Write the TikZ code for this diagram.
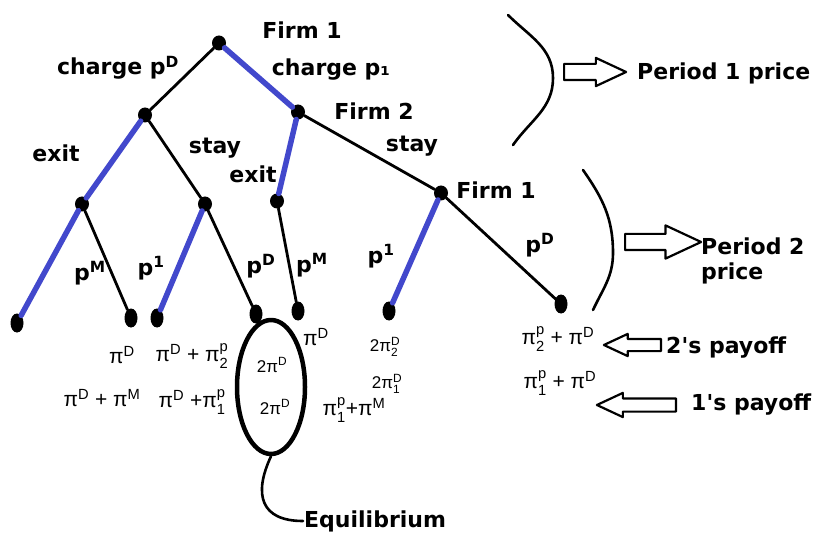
\documentclass[tikz,border=0pt]{standalone}
\usepackage{amsmath}
\usepackage{fontspec}
\setmainfont{DejaVu Sans}
\newfontfamily\payfont{Liberation Sans}
\usetikzlibrary{shapes.geometric, shapes.arrows}
\definecolor{treeBlue}{RGB}{66,72,204}
% profit with superscript and optional subscript
\newcommand\prof[2][]{\ensuremath{\text{π}^{\text{#2}}\if\relax\detokenize{#1}\relax\else_{\text{#1}}\fi}}
\tikzset{
    game/.style={line cap=round, line join=round, x=1pt, y=-1pt},
    dot/.style={ellipse, fill=black, inner sep=0pt, minimum width=14pt,
                minimum height=15pt},
    leaf/.style={dot, minimum width=13pt, minimum height=19pt},
    move/.style={draw=black, line width=2.8pt},
    bestmove/.style={draw=treeBlue, line width=5.5pt},
    actlabel/.style={font=\fontsize{22}{25}\selectfont\bfseries, inner sep=1pt},
    payoff/.style={font=\fontsize{21}{23}\selectfont\payfont, inner sep=1pt},
    smallpayoff/.style={font=\fontsize{17}{19}\selectfont\payfont, inner sep=0pt},
    hollowarrow/.style n args={2}{single arrow, draw=black, line width=2.2pt,
                fill=white, inner xsep=0pt, inner ysep=#1,
                single arrow head extend=#2, single arrow tip angle=50},
    bracket/.style={draw=black, line width=2.6pt},
    eqring/.style={draw=black, ellipse, line width=4.5pt, minimum width=68pt,
                   minimum height=134pt},
}

\begin{document}
\begin{tikzpicture}[game]
\useasboundingbox (0,0) rectangle (826,534);

% --- decision nodes ---
\node[dot] (root) at (219,43) {};
\node[dot] (fa) at (145,115) {};
\node[dot] (fb) at (298,112) {};
\node[dot] (ga) at (82,204) {};
\node[dot] (gb) at (205,204) {};
\node[dot] (gc) at (277,201) {};
\node[dot] (gd) at (441,193) {};

% --- terminal nodes ---
\node[leaf] (la) at (17,323) {};
\node[leaf] (lb) at (131,318) {};
\node[leaf] (lc) at (157,318) {};
\node[leaf] (ld) at (256,314) {};
\node[leaf] (le) at (298,311) {};
\node[leaf] (lf) at (389,311) {};
\node[leaf] (lg) at (561,304) {};

% --- branches ---
\draw[move] (root) -- (fa);
\draw[move] (fa) -- (gb);
\draw[move] (ga) -- (lb);
\draw[move] (gb) -- (ld);
\draw[move] (gc) -- (le);
\draw[move] (fb) -- (gd);
\draw[move] (gd) -- (lg);

\draw[bestmove] (root) -- (fb);
\draw[bestmove] (fa) -- (ga);
\draw[bestmove] (ga) -- (la);
\draw[bestmove] (gb) -- (lc);
\draw[bestmove] (fb) -- (gc);
\draw[bestmove] (gd) -- (lf);

% --- players and actions ---
\node[actlabel] (firmtop) at (302,30) {Firm 1};
\node[actlabel] (chgd) at (118,68) {charge p\textsuperscript{D}};
\node[actlabel] (chgp) at (331,70) {charge p₁};
\node[actlabel] (firmtwo) at (374,111) {Firm 2};
\node[actlabel] (exita) at (56,153) {exit};
\node[actlabel] (staya) at (215,148) {stay};
\node[actlabel] (exitb) at (253,174) {exit};
\node[actlabel] (stayb) at (412,146) {stay};
\node[actlabel] (firmlow) at (496,190) {Firm 1};
\node[actlabel] (pma) at (90,273) {p\textsuperscript{M}};
\node[actlabel] (poa) at (151,268) {p\textsuperscript{1}};
\node[actlabel] (pda) at (261,266) {p\textsuperscript{D}};
\node[actlabel] (pmb) at (312,265) {p\textsuperscript{M}};
\node[actlabel] (pob) at (381,256) {p\textsuperscript{1}};
\node[actlabel] (pdb) at (540,245) {p\textsuperscript{D}};

% --- payoffs ---
\node[payoff] (ua) at (122,355) {\prof{D}};
\node[payoff] (va) at (102,398) {\prof{D} + \prof{M}};
\node[payoff] (ub) at (192,356) {\prof{D} + \prof[2]{p}};
\node[payoff] (vb) at (192,402) {\prof{D} +\prof[1]{p}};
\node[smallpayoff] (uc) at (272,365) {2\prof{D}};
\node[smallpayoff] (vc) at (275,407) {2\prof{D}};
\node[payoff] (ud) at (316,337) {\prof{D}};
\node[payoff] (vd) at (354,410) {\prof[1]{p}+\prof{M}};
\node[smallpayoff] (ue) at (385,347) {2\prof[2]{D}};
\node[smallpayoff] (ve) at (387,384) {2\prof[1]{D}};
\node[payoff] (uf) at (558,339) {\prof[2]{p} + \prof{D}};
\node[payoff] (vf) at (560,383) {\prof[1]{p} + \prof{D}};

% --- equilibrium ---
\node[eqring] (equilib) at (271,387) {};
\node[actlabel, anchor=west] (eqlabel) at (303,521) {Equilibrium};
\draw[line width=2.6pt] (equilib.south) to[out=-115, in=180, looseness=1.5] (eqlabel.west);

% --- periods ---
\draw[bracket] (508,15) to[out=-45, in=90] (553,78) to[out=-90, in=55] (513,145);
\draw[bracket] (583,170) to[out=-55, in=90] (613,253) to[out=-90, in=65] (593,310);

\node[hollowarrow={7pt}{6pt}, minimum height=62pt, anchor=tail] (arrowone) at (563,72) {};
\node[actlabel, anchor=west] (periodone) at (636,73) {Period 1 price};
\node[hollowarrow={7pt}{8.5pt}, minimum height=76pt, anchor=tail] (arrowtwo) at (624,242) {};
\node[actlabel, anchor=west, align=left] (periodtwo) at (700,261) {Period 2\\price};

\node[hollowarrow={5pt}{5pt}, minimum height=57pt, shape border rotate=180, anchor=tail] (arrowpaytwo) at (662,345) {};
\node[actlabel, anchor=west] (paytwo) at (665,348) {2\textquotesingle s payoff};
\node[hollowarrow={5.5pt}{5.5pt}, minimum height=79pt, shape border rotate=180, anchor=tail] (arrowpayone) at (677,405) {};
\node[actlabel, anchor=west] (payone) at (690,405) {1\textquotesingle s payoff};

\end{tikzpicture}
\end{document}
